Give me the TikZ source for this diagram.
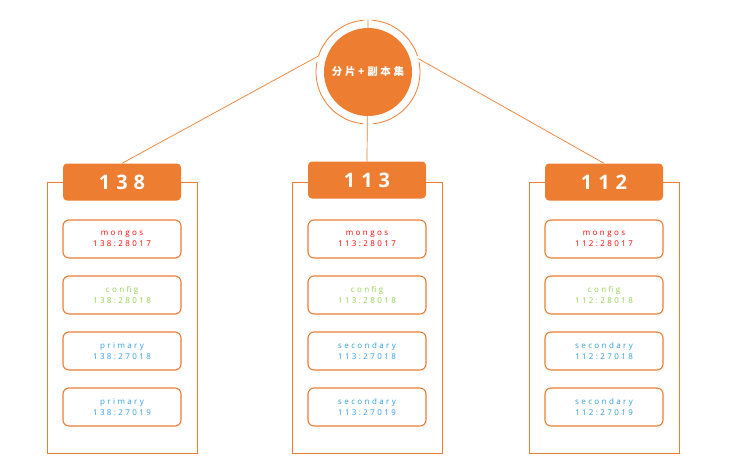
\documentclass[tikz,border=0pt]{standalone}
\usepackage{fontspec}
\setmainfont{Open Sans}[LetterSpace=30]
\newfontfamily\hfont{Open Sans}[LetterSpace=30]
\newfontfamily\cjk{Noto Sans CJK SC}[LetterSpace=25]
\begin{document}
\begin{tikzpicture}[x=1pt,y=-1pt,
  oc/.style={draw=or,line width=0.8pt},
  hdr/.style={fill=or,rounded corners=4pt,minimum width=118pt,minimum height=37pt,text=white,font=\hfont\bfseries\fontsize{20}{22}\selectfont},
  bx/.style={draw=or,line width=1.1pt,rounded corners=6pt,minimum width=118pt,minimum height=38pt,align=center,font=\fontsize{8}{11}\selectfont},
  mg/.style={bx,text=red},
  cf/.style={bx,text=cfg},
  pr/.style={bx,text=bl}]
\definecolor{or}{HTML}{ED7D31}
\definecolor{cfg}{HTML}{92D050}
\definecolor{bl}{HTML}{2E9BE0}
\useasboundingbox (0,0) rectangle (735,475);
% center
\node[circle,fill=or,minimum size=88pt,inner sep=0,text=white,font=\cjk\bfseries\fontsize{10.5}{12}\selectfont] (c) at (368,72) {分片+副本集};
\draw[or,line width=0.8pt] (368,72) ++(85:52) arc[start angle=85,end angle=-11,radius=52];
\draw[or,line width=0.8pt] (368,72) ++(-18:52) arc[start angle=-18,end angle=-86,radius=52];
\draw[or,line width=0.8pt] (368,72) ++(-94:52) arc[start angle=-94,end angle=-162,radius=52];
\draw[or,line width=0.8pt] (368,72) ++(-169:52) arc[start angle=-169,end angle=-265,radius=52];
% columns
\foreach \n/\x/\hy/\lbl/\t/\a/\b in {L/122/182/138/primary/27018/27019, M/367/180/113/secondary/27018/27019, R/604/182/112/secondary/27018/27019}{
  \draw[oc] (\x-75,182) rectangle (\x+75,453);
  \node[hdr] (h\n) at (\x,\hy) {\lbl};
  \node[mg] (m\n) at (\x,239) {mongos\\\lbl:28017};
  \node[cf] (f\n) at (\x,295) {config\\\lbl:28018};
  \node[pr] (p\n) at (\x,351) {\t\\\lbl:\a};
  \node[pr] (q\n) at (\x,407) {\t\\\lbl:\b};
}
\draw[or,line width=0.7pt] (c.center) ++(-162:52) -- (hL.north);
\draw[or,line width=0.7pt] (c.center) ++(-90:52) -- (hM.north);
\draw[or,line width=0.7pt] (c.center) ++(-15:52) -- (hR.north);
\end{tikzpicture}
\end{document}
